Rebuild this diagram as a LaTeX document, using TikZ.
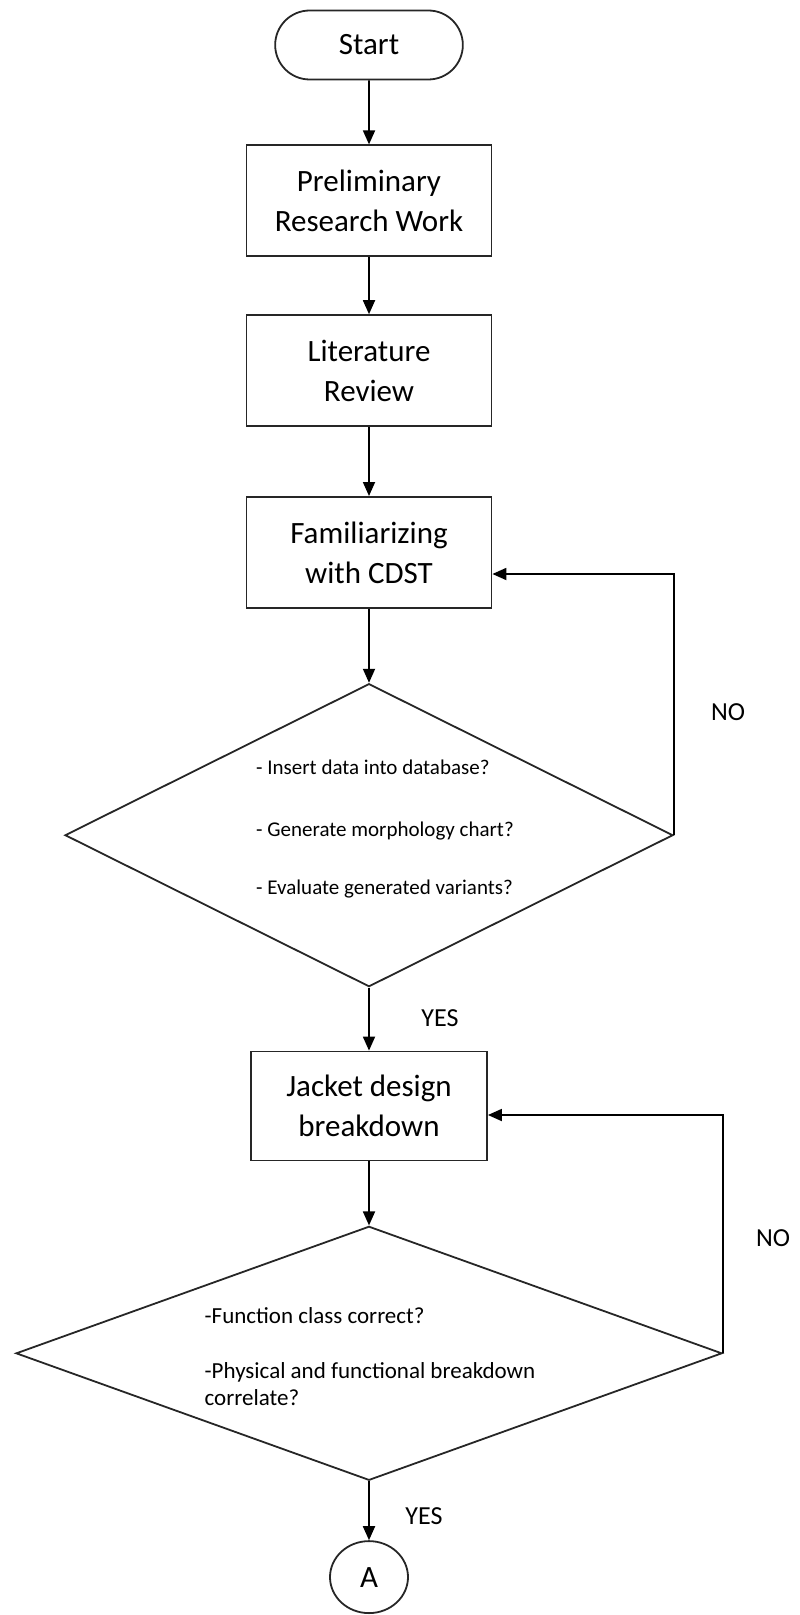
\documentclass[tikz,border=0pt]{standalone}
\usepackage{fontspec}
\setmainfont{Carlito}
\usetikzlibrary{arrows.meta,positioning,shapes.misc,shapes.geometric}

\begin{document}
\begin{tikzpicture}[x=0.5pt,y=-0.5pt,
    >={Triangle[length=7pt,width=6pt]},
    every path/.style={line width=0.9pt},
    terminal/.style={
    % The shape:
    rounded rectangle,
    minimum width=100.5pt,minimum height=34.5pt,
    % The rest
    draw=black!85,font=\fontsize{15.5}{19}\selectfont},
    process/.style={
    rectangle,
    minimum width=122.5pt,minimum height=55.5pt,
    draw=black!85,align=center,
    font=\fontsize{15.5}{20}\selectfont},
    decision/.style={
    diamond,
    inner sep=0pt,
    draw=black!85},
    question/.style={align=left,inner sep=0pt},
    connector/.style={
    ellipse,
    minimum width=39pt,minimum height=36pt,
    draw=black!85,font=\fontsize{15.5}{19}\selectfont},
    answer/.style={font=\fontsize{13}{16}\selectfont}]
    \useasboundingbox (0,0) rectangle (799,1615);
    \node (start) [terminal] at (369,45) {Start};
    \node (prelim) [process,below=32pt of start] {Preliminary\\Research Work};
    \node (lit) [process,below=28.5pt of prelim] {Literature\\Review};
    \node (cdst) [process,below=34.5pt of lit] {Familiarizing\\with CDST};
    \node (check1) [decision,minimum width=304pt,minimum height=151.5pt,
        below=37pt of cdst] {};
    \node (q1) [question,font=\fontsize{10.5}{13}\selectfont,xshift=8pt,yshift=3pt]
        at (check1.center)
        {- Insert data into database?\\[18pt]- Generate morphology chart?\\[16pt]- Evaluate generated variants?};
    \node (jacket) [process,minimum width=118pt,minimum height=54.5pt,below=31.5pt of check1] {Jacket design\\breakdown};
    \node (check2) [decision,minimum width=353pt,minimum height=127pt,
        below=32pt of jacket] {};
    \node (q2) [question,font=\fontsize{11.5}{13.5}\selectfont,xshift=0.5pt,yshift=-1.5pt]
        at (check2.center)
        {-Function class correct?\\[14pt]-Physical and functional breakdown\\correlate?};
    \node (a) [connector,below=29.5pt of check2] {A};
    % loops back
    \coordinate (loop1) at (check1.east |- 0,574);
    \coordinate (loop2) at (check2.east |- 0,1115);
    \draw[->] (start) -- (prelim);
    \draw[->] (prelim) -- (lit);
    \draw[->] (lit) -- (cdst);
    \draw[->] (cdst) -- (check1);
    \draw[->] (check1) -- (jacket);
    \draw[->] (jacket) -- (check2);
    \draw[->] (check2) -- (a);
    \draw[->] (check1.east) -- (loop1) -- (loop1 -| cdst.east);
    \draw[->] (check2.east) -- (loop2) -- (loop2 -| jacket.east);
    \node (no1) [answer] at (728,712) {NO};
    \node (no2) [answer] at (773,1238) {NO};
    \node (yes1) [answer] at (440,1018) {YES};
    \node (yes2) [answer] at (424,1516) {YES};
\end{tikzpicture}
\end{document}
